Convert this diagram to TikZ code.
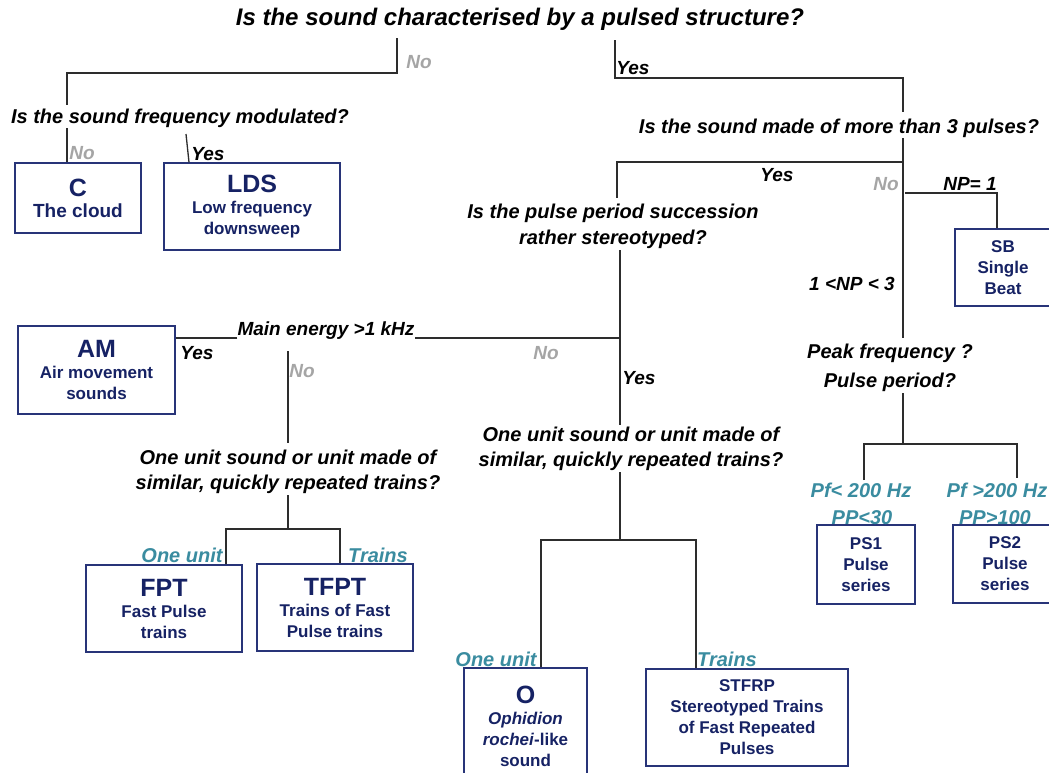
\documentclass[tikz,border=0pt]{standalone}
\usepackage{fontspec}
\setmainfont{Liberation Sans}
\definecolor{navy}{RGB}{22,34,100}
\definecolor{boxline}{RGB}{40,52,120}
\definecolor{tealc}{RGB}{58,140,160}
\definecolor{nogray}{RGB}{165,165,165}
\definecolor{wirec}{RGB}{45,45,45}
\newcommand{\bigcode}[1]{{\fontsize{25}{25}\selectfont #1}}
\tikzset{
  quest/.style={font=\bfseries\itshape\fontsize{20}{26}\selectfont, inner sep=0pt, align=center},
  lab/.style={font=\bfseries\itshape\fontsize{19}{22}\selectfont, inner sep=0pt},
  nolab/.style={lab, text=nogray},
  tlab/.style={font=\bfseries\itshape\fontsize{20}{22}\selectfont, inner sep=0pt, text=tealc},
  leaf/.style={draw=boxline, line width=1.5pt, fill=white, text=navy, font=\bfseries\fontsize{17}{21}\selectfont, align=center, inner sep=0pt},
  wire/.style={draw=wirec, line width=1.3pt},
}
\begin{document}
\begin{tikzpicture}[x=1pt,y=-1pt]
\useasboundingbox (0,0) rectangle (1049,772);
\fill[white] (0,0) rectangle (1049,772);
\clip (0,0) rectangle (1049,772);

% questions
\node[quest, font=\bfseries\itshape\fontsize{24}{28}\selectfont] (q1) at (520,19) {Is the sound characterised by a pulsed structure?};
\node[quest] (q2) at (180,118) {Is the sound frequency modulated?};
\node[quest] (q3) at (839,128) {Is the sound made of more than 3 pulses?};
\node[quest] (q4) at (613,226) {Is the pulse period succession\\rather stereotyped?};
\node[lab, font=\bfseries\itshape\fontsize{19}{22}\selectfont] (me) at (326,331) {Main energy >1 kHz};
\node[quest, font=\bfseries\itshape\fontsize{20}{25}\selectfont] (q5l) at (288,472) {One unit sound or unit made of\\similar, quickly repeated trains?};
\node[quest, font=\bfseries\itshape\fontsize{20}{25}\selectfont] (q5m) at (631,449) {One unit sound or unit made of\\similar, quickly repeated trains?};
\node[quest, font=\bfseries\itshape\fontsize{20}{29}\selectfont] (q6) at (890,368) {Peak frequency ?\\Pulse period?};

% leaves
\node[leaf, minimum width=126pt, minimum height=70pt] (C) at (78,198) {\bigcode{C}\\{\fontsize{19}{21}\selectfont The cloud}};
\node[leaf, minimum width=176pt, minimum height=87pt] (LDS) at (252,206.5) {\bigcode{LDS}\\Low frequency\\downsweep};
\node[leaf, minimum width=96pt, minimum height=77pt] (SB) at (1003,267.5) {SB\\Single\\Beat};
\node[leaf, minimum width=157pt, minimum height=88pt] (AM) at (96.5,370) {\bigcode{AM}\\Air movement\\sounds};
\node[leaf, minimum width=156pt, minimum height=87pt] (FPT) at (164,608.5) {\bigcode{FPT}\\Fast Pulse\\trains};
\node[leaf, minimum width=156pt, minimum height=87pt] (TFPT) at (335,607.5) {\bigcode{TFPT}\\Trains of Fast\\Pulse trains};
\node[leaf, minimum width=123pt, minimum height=116pt] (O) at (525.5,726) {\bigcode{O}\\\textit{Ophidion}\\\textit{rochei}-like\\sound};
\node[leaf, minimum width=202pt, minimum height=97pt] (STFRP) at (747,717.5) {STFRP\\Stereotyped Trains\\of Fast Repeated\\Pulses};
\node[leaf, minimum width=98pt, minimum height=79pt] (PS1) at (866,564.5) {PS1\\Pulse\\series};
\node[leaf, minimum width=104pt, minimum height=78pt] (PS2) at (1005,564) {PS2\\Pulse\\series};

% connector end points
\coordinate (q1no) at (397,38);
\coordinate (q2top) at (67,105);
\coordinate (q1yes) at (615,40);
\coordinate (q3top) at (903,112);
\coordinate (q2no) at (67,128);
\coordinate (q2yes) at (186,134);
\coordinate (q3bot) at (903,138);
\coordinate (q6top) at (903,338);
\coordinate (j3) at (903,162);
\coordinate (q4top) at (617,198);
\coordinate (j4) at (905,193);
\coordinate (q4bot) at (620,250);
\coordinate (q5mtop) at (620,425);
\coordinate (j5) at (620,338);
\coordinate (meno) at (288,351);
\coordinate (q5ltop) at (288,443);
\coordinate (q5lbot) at (288,495);
\coordinate (j6) at (288,529);
\coordinate (q5mbot) at (620,472);
\coordinate (j7) at (620,540);
\coordinate (q6bot) at (903,393);
\coordinate (j8) at (903,444);
\coordinate (pf1) at (864,480);
\coordinate (pf2) at (1017,478);

% connectors
\draw[wire] (q1no) -- (397,73) -| (q2top);
\draw[wire] (q1yes) -- (615,78) -| (q3top);
\draw[wire] (q2no) -- (q2no |- C.north);
\draw[wire] (q2yes) -- ([xshift=-63pt]LDS.north);
\draw[wire] (q3bot) -- (q6top);
\draw[wire] (j3) -| (q4top);
\draw[wire] (j4) -| ([xshift=-6pt]SB.north);
\draw[wire] (q4bot) -- (q5mtop);
\draw[wire] (j5) -- (j5 -| me.east);
\draw[wire] (me.west |- j5) -- (AM.east |- j5);
\draw[wire] (meno) -- (q5ltop);
\draw[wire] (q5lbot) -- (j6);
\draw[wire] ([xshift=62pt]FPT.north) |- (j6) -| ([xshift=5pt]TFPT.north);
\draw[wire] (q5mbot) -- (j7);
\draw[wire] ([xshift=15.5pt]O.north) |- (j7) -| ([xshift=-51pt]STFRP.north);
\draw[wire] (q6bot) -- (j8);
\draw[wire] (pf1) |- (j8) -| (pf2);

% branch labels
\node[nolab] (l1) at (419,62) {No};
\node[lab] (l2) at (633,68) {Yes};
\node[nolab] (l3) at (82,153) {No};
\node[lab] (l4) at (208,154) {Yes};
\node[lab] (l5) at (777,175) {Yes};
\node[nolab] (l6) at (886,184) {No};
\node[lab] (l7) at (970,184) {NP= 1};
\node[lab] (l8) at (852,284) {1 <NP < 3};
\node[lab] (l9) at (197,353) {Yes};
\node[nolab] (l10) at (302,371) {No};
\node[nolab] (l11) at (546,353) {No};
\node[lab] (l12) at (639,378) {Yes};
\node[tlab] (l13) at (182,555) {One unit};
\node[tlab] (l14) at (378,555) {Trains};
\node[tlab] (l15) at (496,659) {One unit};
\node[tlab] (l16) at (727,659) {Trains};
\node[tlab] (l17) at (861,490) {Pf< 200 Hz};
\node[tlab] (l18) at (862,518) {PP<30};
\node[tlab] (l19) at (997,490) {Pf >200 Hz};
\node[tlab] (l20) at (995,518) {PP>100};
\end{tikzpicture}
\end{document}
